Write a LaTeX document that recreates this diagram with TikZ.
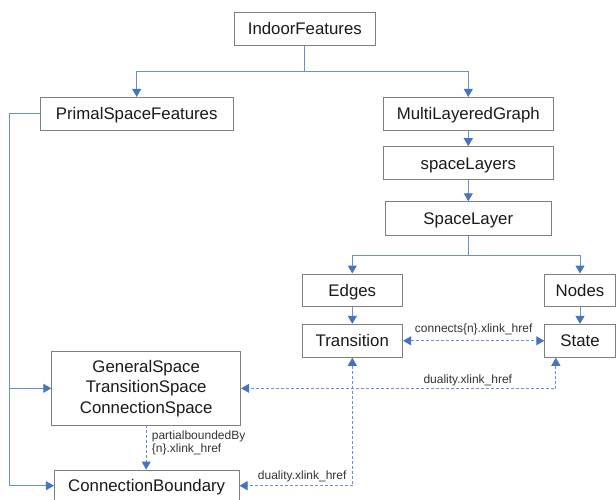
\documentclass[tikz,border=0pt]{standalone}
\usepackage{fontspec}
\setmainfont{Liberation Sans}
\usetikzlibrary{arrows.meta,calc}
\definecolor{BoxEdge}{HTML}{7F7F7F}
\definecolor{BoxInk}{HTML}{1A1A1A}
\definecolor{LinkBlue}{HTML}{4472C4}
\definecolor{LinkLine}{HTML}{6A8FD2}
\definecolor{LabelInk}{HTML}{333333}
\tikzset{
  every node/.style={text=BoxInk},
  box/.style={draw=BoxEdge, line width=0.9pt, fill=white, inner sep=0pt, align=center, font=\fontsize{16.8}{20.5}\selectfont},
  feature/.style={box, text height=12pt, text depth=0pt},
  stem/.style={draw=LinkLine, line width=1pt},
  tree/.style={stem, -{Triangle[length=8pt,width=9pt,color=LinkBlue]}},
  ref/.style={stem, dash pattern=on 3pt off 2pt, -{Triangle[length=8pt,width=9pt,color=LinkBlue]}},
  link/.style={ref, {Triangle[length=8pt,width=9pt,color=LinkBlue]}-{Triangle[length=8pt,width=9pt,color=LinkBlue]}},
  lbl/.style={font=\fontsize{12}{12.6}\selectfont, text=LabelInk, inner sep=0pt},
}
\begin{document}
\begin{tikzpicture}[x=1pt,y=-1pt]
  \useasboundingbox (0,0) rectangle (616,500);
  % Feature tree
  \node[feature, minimum width=141pt, minimum height=33.4pt] (indoor) at (304.8,29) {IndoorFeatures};
  \node[feature, minimum width=192.7pt, minimum height=32.7pt] (primal) at (136.7,113.7) {PrimalSpaceFeatures};
  \node[feature, minimum width=170.7pt, minimum height=32.7pt] (mlg) at (468.3,113.7) {MultiLayeredGraph};
  \node[feature, minimum width=170.7pt, minimum height=33.3pt] (layers) at (468.3,163.3) {spaceLayers};
  \node[feature, minimum width=165.7pt, minimum height=34pt] (layer) at (468.3,218.7) {SpaceLayer};
  \node[feature, minimum width=100.7pt, minimum height=32.7pt] (edges) at (352.3,290.3) {Edges};
  \node[feature, minimum width=70.6pt, minimum height=32.7pt] (nodes) at (580,290.3) {Nodes};
  \node[feature, minimum width=100.7pt, minimum height=33pt] (transition) at (352.3,340.8) {Transition};
  \node[feature, minimum width=70.6pt, minimum height=33pt] (state) at (580,340.8) {State};
  \node[box, minimum width=189pt, minimum height=73.3pt] (general) at (146.2,388.3) {GeneralSpace\\TransitionSpace\\ConnectionSpace};
  \node[feature, minimum width=184.7pt, minimum height=31.4pt] (boundary) at (146.7,485.7) {ConnectionBoundary};
  % Solid branches
  \coordinate (indoorFork) at (304.8,71.3);
  \draw[stem] (indoor.south) -- (indoorFork);
  \draw[tree] (indoorFork) -| (primal);
  \draw[tree] (indoorFork) -| (mlg);
  \draw[tree] (mlg) -- (layers);
  \draw[tree] (layers) -- (layer);
  \coordinate (layerFork) at (468.3,255);
  \draw[stem] (layer.south) -- (layerFork);
  \draw[tree] (layerFork) -| (edges);
  \draw[tree] (layerFork) -| (nodes);
  \draw[tree] (edges) -- (transition);
  \draw[tree] (nodes) -- (state);
  \coordinate (primalSpine) at (9.3,113.7);
  \draw[stem] (primal.west) -- (primalSpine);
  \draw[tree] (primalSpine) |- (general.west);
  \draw[tree] (primalSpine) |- (boundary.west);
  % Dashed references
  \draw[link] (transition) -- (state);
  \node[lbl] (connectsLbl) at (473.7,329.3) {connects\{n\}.xlink\_href};
  \coordinate (stateFoot) at ([xshift=11.6pt]state.south west);
  \draw[link] (stateFoot) |- (general.east);
  \node[lbl] (stateDualLbl) at (467.8,380) {duality.xlink\_href};
  \draw[link] (transition.south) |- (boundary.east);
  \node[lbl] (transDualLbl) at (302.2,476.7) {duality.xlink\_href};
  \draw[ref] (general.south) -- (general.south |- boundary.north);
  \node[lbl, anchor=west, align=left] (boundedLbl) at (151.7,443) {partialboundedBy\\\{n\}.xlink\_href};
\end{tikzpicture}
\end{document}
